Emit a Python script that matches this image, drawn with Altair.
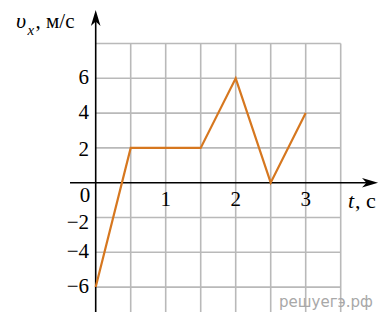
import altair as alt
import pandas as pd

# data
t_vals = [0, 0.5, 1.5, 2, 2.5, 3]
v_vals = [-6, 2, 2, 6, 0, 4]

grid_t = [0.5, 1, 1.5, 2, 2.5, 3, 3.5]
grid_v = [-6, -4, -2, 2, 4, 6, 8]

ytick_vals = [6, 4, 2, -2, -4, -6]
ytick_labels = ["6", "4", "2", "−2", "−4", "−6"]
xtick_vals = [1, 2, 3]
xtick_labels = ["1", "2", "3"]

T_MIN, T_MAX = -1.2529, 4.1186
V_MIN, V_MAX = -7.431, 10.04

SERIF = "Liberation Serif"
GRID = "#b9b9b9"
ORANGE = "#d6771f"


def X(f):
    return alt.X(f, type="quantitative", scale=alt.Scale(domain=[T_MIN, T_MAX], nice=False, zero=False), axis=None)


def Y(f):
    return alt.Y(f, type="quantitative", scale=alt.Scale(domain=[V_MIN, V_MAX], nice=False, zero=False), axis=None)


vgrid_df = pd.DataFrame({"t": grid_t, "v0": V_MIN, "v1": grid_v[-1]})
hgrid_df = pd.DataFrame({"v": grid_v, "t0": 0, "t1": grid_t[-1]})

vgrid = alt.Chart(vgrid_df).mark_rule(color=GRID, strokeWidth=1.6).encode(
    x=X("t"), y=Y("v0"), y2="v1")
hgrid = alt.Chart(hgrid_df).mark_rule(color=GRID, strokeWidth=1.6).encode(
    y=Y("v"), x=X("t0"), x2="t1")

xaxis = alt.Chart(pd.DataFrame({"t0": [-0.367], "t1": [3.9], "v": [0]})).mark_rule(
    color="black", strokeWidth=1.6).encode(x=X("t0"), x2="t1", y=Y("v"))
yaxis = alt.Chart(pd.DataFrame({"t": [0], "v0": [V_MIN], "v1": [9.4]})).mark_rule(
    color="black", strokeWidth=1.6).encode(x=X("t"), y=Y("v0"), y2="v1")

up_arrow = alt.Chart(pd.DataFrame({"t": [0], "v": [9.466]})).mark_point(
    shape="M0,-1 L0.6,1 L0,0.45 L-0.6,1 Z", filled=True, fill="black", strokeWidth=0,
    size=256, opacity=1).encode(x=X("t"), y=Y("v"))
right_arrow = alt.Chart(pd.DataFrame({"t": [3.919], "v": [0]})).mark_point(
    shape="M1,0 L-1,-0.6 L-0.45,0 L-1,0.6 Z", filled=True, fill="black", strokeWidth=0,
    size=256, opacity=1).encode(x=X("t"), y=Y("v"))

line = alt.Chart(pd.DataFrame({"t": t_vals, "v": v_vals})).mark_line(
    color=ORANGE, strokeWidth=2.2).encode(x=X("t"), y=Y("v"))

ylab_df = pd.DataFrame({"v": ytick_vals, "lab": ytick_labels})
ylabels = alt.Chart(ylab_df).transform_calculate(
    tx="-0.096", vy="datum.v == -2 ? -2.32 : (datum.v == 2 ? 1.88 : datum.v)"
).mark_text(font=SERIF, fontSize=21, align="right", baseline="middle", color="black").encode(
    x=X("tx"), y=Y("vy"), text="lab:N")

xlab_df = pd.DataFrame({"t": xtick_vals, "lab": xtick_labels})
xlabels = alt.Chart(xlab_df).transform_calculate(vy="-1.0").mark_text(
    font=SERIF, fontSize=21, align="center", baseline="middle", color="black").encode(
    x=X("t"), y=Y("vy"), text="lab:N")

zero = alt.Chart(pd.DataFrame({"t": [-0.153], "v": [-0.793], "lab": ["0"]})).mark_text(
    font=SERIF, fontSize=21, align="center", baseline="middle", color="black").encode(
    x=X("t"), y=Y("v"), text="lab:N")

t_title = alt.Chart(pd.DataFrame({"t": [3.604], "v": [-1.454], "lab": ["t"]})).mark_text(
    font=SERIF, fontSize=22, fontStyle="italic", align="left", baseline="alphabetic", color="black").encode(
    x=X("t"), y=Y("v"), text="lab:N")
t_unit = alt.Chart(pd.DataFrame({"t": [3.704], "v": [-1.454], "lab": [", с"]})).mark_text(
    font=SERIF, fontSize=22, align="left", baseline="alphabetic", color="black").encode(
    x=X("t"), y=Y("v"), text="lab:N")

v_title = alt.Chart(pd.DataFrame({"t": [-1.139], "v": [8.89], "lab": ["υ"]})).mark_text(
    font=SERIF, fontSize=22, fontStyle="italic", align="left", baseline="alphabetic", color="black").encode(
    x=X("t"), y=Y("v"), text="lab:N")
v_sub = alt.Chart(pd.DataFrame({"t": [-0.975], "v": [8.49], "lab": ["x"]})).mark_text(
    font=SERIF, fontSize=15, fontStyle="italic", align="left", baseline="alphabetic", color="black").encode(
    x=X("t"), y=Y("v"), text="lab:N")
v_unit = alt.Chart(pd.DataFrame({"t": [-0.86], "v": [8.89], "lab": [", м/с"]})).mark_text(
    font=SERIF, fontSize=21, align="left", baseline="alphabetic", color="black").encode(
    x=X("t"), y=Y("v"), text="lab:N")

wm = alt.Chart(pd.DataFrame({"t": [3.96], "v": [-7.15], "lab": ["решуегэ.рф"]})).mark_text(
    font="DejaVu Sans", fontSize=15, align="right", baseline="alphabetic", color="#a8a8a8").encode(
    x=X("t"), y=Y("v"), text="lab:N")

chart = alt.layer(
    vgrid, hgrid, xaxis, yaxis, up_arrow, right_arrow, line,
    ylabels, xlabels, zero, t_title, t_unit, v_title, v_sub, v_unit, wm
).properties(
    width=376, height=304, padding=0, autosize=alt.AutoSizeParams(type="none")
).configure_view(stroke=None)

chart.save("out.html", embed_options={"renderer": "svg", "actions": False})
